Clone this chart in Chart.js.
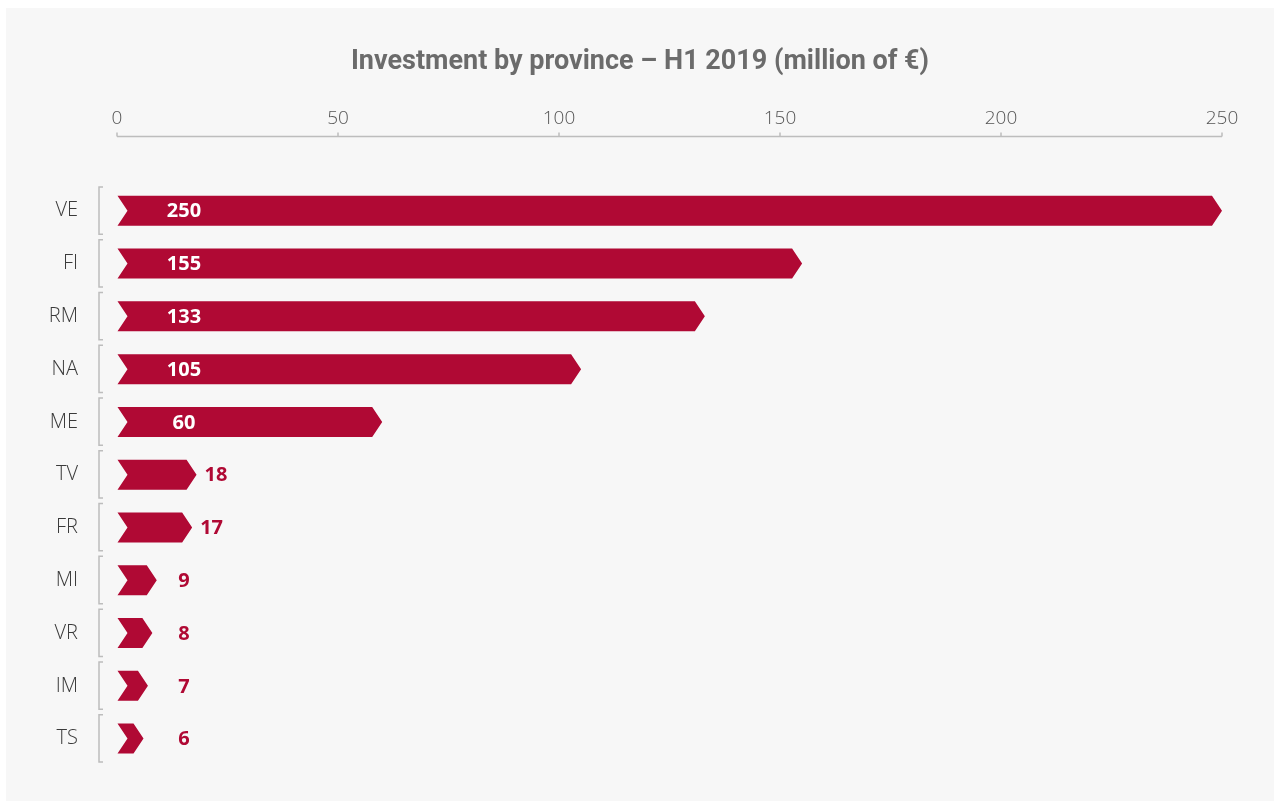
<!DOCTYPE html>
<html>
<head>
<meta charset="utf-8">
<script src="https://cdn.jsdelivr.net/npm/chart.js@4"></script>
<style>
    html, body { margin: 0; padding: 0; background: #ffffff; }
    #painel { position: absolute; left: 6px; top: 8px; width: 1268px; height: 793px; background: #f7f7f7; }
</style>
</head>
<body>
<div id="painel"><canvas id="graficoProvincias"></canvas></div>
<script>
const provincias = ['VE', 'FI', 'RM', 'NA', 'ME', 'TV', 'FR', 'MI', 'VR', 'IM', 'TS'];
const investimento = [250, 155, 133, 105, 60, 18, 17, 9, 8, 7, 6];
const marcasEixo = [0, 50, 100, 150, 200, 250];

const corBarra = '#b00934';
const corCinza = '#bdbdbd';

// barras em forma de seta (chevron) no lugar do retângulo padrão
const setas = {
    id: 'setas',
    beforeDatasetDraw(chart, args) {
        const ctx = chart.ctx;
        ctx.save();
        ctx.fillStyle = corBarra;
        args.meta.data.forEach(bar => {
            const { x, y, base, height } = bar.getProps(['x', 'y', 'base', 'height'], true);
            const h2 = height / 2, ponta = 10;
            ctx.beginPath();
            ctx.moveTo(base, y - h2);
            ctx.lineTo(x - ponta, y - h2);
            ctx.lineTo(x, y);
            ctx.lineTo(x - ponta, y + h2);
            ctx.lineTo(base, y + h2);
            ctx.lineTo(base + ponta, y);
            ctx.closePath();
            ctx.fill();
        });
        ctx.restore();
        return false;
    },
    afterDatasetsDraw(chart) {
        const ctx = chart.ctx;
        const meta = chart.getDatasetMeta(0);
        const colunaX = chart.chartArea.left + 67;
        ctx.save();
        ctx.font = 'bold 20px "Noto Sans"';
        ctx.textAlign = 'center';
        ctx.textBaseline = 'middle';
        meta.data.forEach((bar, i) => {
            const txt = String(investimento[i]);
            const w = ctx.measureText(txt).width;
            const fimReto = bar.x - 10;
            let px = colunaX;
            if (fimReto >= colunaX + w / 2 + 4) {
                ctx.fillStyle = '#ffffff';
            } else {
                ctx.fillStyle = corBarra;
                px = Math.max(colunaX, bar.x + 8 + w / 2);
            }
            ctx.fillText(txt, px, bar.y + 1);
        });
        ctx.restore();
    },
    afterDraw(chart) {
        const ctx = chart.ctx;
        const sx = chart.scales.x, sy = chart.scales.y;
        const top = chart.chartArea.top;
        ctx.save();
        ctx.strokeStyle = corCinza;
        ctx.lineWidth = 1.5;
        // linha do eixo superior com pequenas marcas
        const yEixo = top - 48;
        ctx.beginPath();
        ctx.moveTo(sx.getPixelForValue(0), yEixo);
        ctx.lineTo(sx.getPixelForValue(250), yEixo);
        marcasEixo.forEach(v => {
            const px = sx.getPixelForValue(v);
            ctx.moveTo(px, yEixo);
            ctx.lineTo(px, yEixo - 4);
        });
        ctx.stroke();
        // colchetes ao lado de cada categoria
        const banda = (sy.getPixelForValue(1) - sy.getPixelForValue(0));
        const xc = chart.chartArea.left - 18;
        provincias.forEach((p, i) => {
            const yc = sy.getPixelForValue(i);
            const y0 = yc - banda / 2 + 2.5, y1 = yc + banda / 2 - 3;
            ctx.beginPath();
            ctx.moveTo(xc + 4, y0);
            ctx.lineTo(xc, y0);
            ctx.lineTo(xc, y1);
            ctx.lineTo(xc + 4, y1);
            ctx.stroke();
        });
        ctx.restore();
    }
};

// marcas invisíveis: só afastam os rótulos da área do gráfico
const gradeInvisivel = (comprimento) => ({
    display: true,
    drawOnChartArea: false,
    drawTicks: true,
    tickLength: comprimento,
    color: 'rgba(0,0,0,0)'
});

new Chart(document.getElementById('graficoProvincias'), {
    type: 'bar',
    data: {
        labels: provincias,
        datasets: [{
            label: 'Investimento',
            data: investimento,
            backgroundColor: corBarra,
            barThickness: 30
        }]
    },
    options: {
        indexAxis: 'y',
        responsive: true,
        maintainAspectRatio: false,
        animation: false,
        layout: { padding: { left: 0, right: 0, top: 0, bottom: 36 } },
        plugins: {
            legend: { display: false },
            tooltip: { enabled: false },
            title: {
                display: true,
                text: 'Investment by province – H1 2019 (million of €)',
                color: '#6b6b6b',
                font: { family: 'Roboto', size: 27, weight: 'bold' },
                padding: { top: 38, bottom: 8 }
            }
        },
        scales: {
            x: {
                position: 'top',
                min: 0,
                max: 250,
                afterFit: s => { s.height = 98; },
                afterBuildTicks: s => { s.ticks = marcasEixo.map(v => ({ value: v })); },
                ticks: { color: '#555555', font: { family: 'Open Sans', size: 19, weight: '300' }, padding: 6 },
                grid: gradeInvisivel(48),
                border: { display: false }
            },
            y: {
                afterFit: s => { s.width = 111; },
                ticks: { color: '#3a3a3a', font: { family: 'Open Sans', size: 20, weight: '300' }, padding: 6 },
                grid: gradeInvisivel(33),
                border: { display: false }
            },
            // margem vazia à direita, sem marcas
            margemDireita: {
                type: 'linear',
                position: 'right',
                afterFit: s => { s.width = 52; },
                ticks: { display: false },
                grid: { display: false, drawTicks: false },
                border: { display: false }
            }
        }
    },
    plugins: [setas]
});
</script>
</body>
</html>
